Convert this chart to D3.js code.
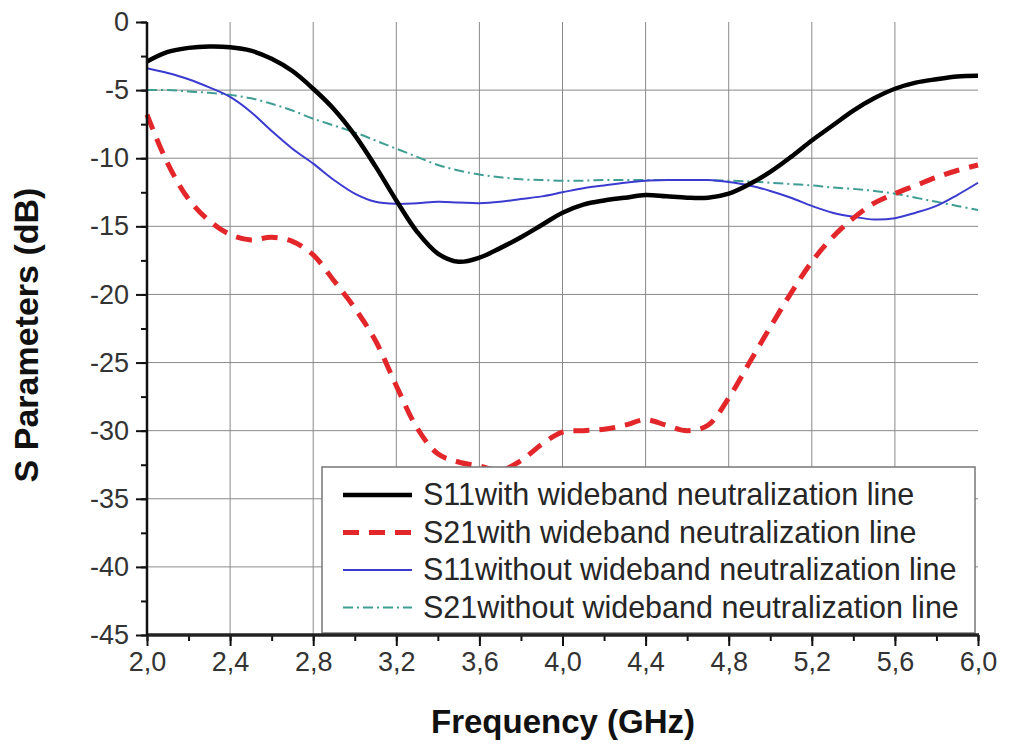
<!DOCTYPE html>
<html>
<head>
<meta charset="utf-8">
<script src="https://cdn.jsdelivr.net/npm/d3@7"></script>
<style>
  html, body { margin: 0; padding: 0; background: #fff; }
  svg { display: block; font-family: Arial, "Liberation Sans", sans-serif; }
</style>
</head>
<body>
<div id="chart"></div>
<script>
// frequency samples (GHz), shared by all four traces
const freq = d3.range(41).map((i) => +(2 + i * 0.1).toFixed(1));

// S11 with wideband neutralization line
const s11With = [
  -2.9, -2.2, -1.9, -1.8, -1.85, -2.1, -2.7, -3.6, -4.9, -6.4,
  -8.3, -10.6, -13.1, -15.4, -17.0, -17.6, -17.3, -16.6, -15.8, -14.9,
  -14.0, -13.4, -13.1, -12.9, -12.7, -12.8, -12.9, -12.9, -12.6, -11.9,
  -11.0, -9.9, -8.7, -7.6, -6.5, -5.6, -4.9, -4.45, -4.2, -4.0, -3.95,
];
// S21 with wideband neutralization line
const s21With = [
  -6.8, -10.4, -13.0, -14.6, -15.6, -16.0, -15.8, -16.1, -17.1, -19.0,
  -21.0, -23.4, -26.7, -29.8, -31.7, -32.3, -32.6, -32.9, -32.2, -31.0,
  -30.1, -30.0, -29.9, -29.6, -29.2, -29.6, -30.0, -29.6, -27.6, -25.0,
  -22.4, -19.9, -17.6, -15.8, -14.4, -13.3, -12.6, -12.0, -11.4, -10.9, -10.5,
];
// S11 without wideband neutralization line
const s11Without = [
  -3.4, -3.75, -4.2, -4.8, -5.5, -6.6, -8.0, -9.3, -10.4, -11.6,
  -12.6, -13.2, -13.35, -13.3, -13.2, -13.25, -13.3, -13.2, -13.0, -12.8,
  -12.5, -12.2, -12.0, -11.8, -11.65, -11.6, -11.6, -11.6, -11.75, -12.0,
  -12.4, -12.9, -13.5, -14.0, -14.3, -14.5, -14.4, -14.0, -13.5, -12.7, -11.8,
];
// S21 without wideband neutralization line
const s21Without = [
  -5.0, -5.0, -5.1, -5.2, -5.35, -5.6, -6.0, -6.5, -7.1, -7.6,
  -8.1, -8.7, -9.3, -9.9, -10.5, -10.9, -11.2, -11.4, -11.55, -11.6,
  -11.65, -11.65, -11.6, -11.6, -11.6, -11.6, -11.6, -11.6, -11.65, -11.7,
  -11.8, -11.9, -12.0, -12.15, -12.25, -12.4, -12.6, -12.9, -13.2, -13.5, -13.8,
];

const seriesNames = [
  'S11with wideband neutralization line',
  'S21with wideband neutralization line',
  'S11without wideband neutralization line',
  'S21without wideband neutralization line',
];

const xTicks = [2.0, 2.4, 2.8, 3.2, 3.6, 4.0, 4.4, 4.8, 5.2, 5.6, 6.0];
const yTicks = [0, -5, -10, -15, -20, -25, -30, -35, -40, -45];

const width = 1010;
const height = 747;
const margin = { top: 22, right: 32, bottom: 112, left: 147 };

const styles = [
  { color: '#000000', width: 4.5, dash: null },
  { color: '#e3262a', width: 5, dash: '16,10' },
  { color: '#3b3bd0', width: 2, dash: null },
  { color: '#3f9e94', width: 2, dash: '10,4,2,4' },
];

const x = d3.scaleLinear().domain([2, 6]).range([margin.left, width - margin.right]);
const y = d3.scaleLinear().domain([-45, 0]).range([height - margin.bottom, margin.top]);

const svg = d3
  .select('#chart')
  .append('svg')
  .attr('width', width)
  .attr('height', height)
  .attr('viewBox', [0, 0, width, height]);

// grid
svg
  .append('g')
  .attr('stroke', '#8a8a8a')
  .attr('stroke-width', 1)
  .selectAll('line')
  .data(xTicks.slice(1, -1))
  .join('line')
  .attr('x1', (d) => x(d))
  .attr('x2', (d) => x(d))
  .attr('y1', y(0))
  .attr('y2', y(-45));

svg
  .append('g')
  .attr('stroke', '#8a8a8a')
  .attr('stroke-width', 1)
  .selectAll('line')
  .data(yTicks.slice(1, -1))
  .join('line')
  .attr('x1', x(2))
  .attr('x2', x(6))
  .attr('y1', (d) => y(d))
  .attr('y2', (d) => y(d));

// curves
const allSeries = [s11With, s21With, s11Without, s21Without];
const line = d3
  .line()
  .x((d, i) => x(freq[i]))
  .y((d) => y(d))
  .curve(d3.curveCatmullRom.alpha(0.5));

svg
  .append('g')
  .attr('fill', 'none')
  .selectAll('path')
  .data([3, 2, 1, 0])
  .join('path')
  .attr('d', (k) => line(allSeries[k]))
  .attr('stroke', (k) => styles[k].color)
  .attr('stroke-width', (k) => styles[k].width)
  .attr('stroke-dasharray', (k) => styles[k].dash)
  .attr('stroke-linejoin', 'round');

// legend
const legend = svg.append('g');
legend
  .append('rect')
  .attr('x', 322)
  .attr('y', 467)
  .attr('width', 653)
  .attr('height', 166)
  .attr('fill', '#fff')
  .attr('stroke', '#777')
  .attr('stroke-width', 1.5);

const rows = legend
  .selectAll('g')
  .data(seriesNames)
  .join('g')
  .attr('transform', (d, i) => `translate(343,${495 + i * 37.5})`);

rows
  .append('line')
  .attr('x1', 0)
  .attr('x2', 69)
  .attr('stroke', (d, i) => styles[i].color)
  .attr('stroke-width', (d, i) => styles[i].width)
  .attr('stroke-dasharray', (d, i) => styles[i].dash);

rows
  .append('text')
  .attr('x', 80)
  .attr('y', 10)
  .attr('font-size', 30.5)
  .attr('fill', '#262626')
  .text((d) => d);

// axes
const xAxis = svg.append('g').attr('transform', `translate(0,${y(-45)})`);
xAxis
  .call(d3.axisBottom(x).tickValues(d3.range(2, 6.01, 0.2)).tickSize(6).tickFormat(''))
  .call((g) => g.select('.domain').remove())
  .selectAll('line')
  .attr('stroke', '#111')
  .attr('stroke-width', 2);
xAxis
  .append('g')
  .call(d3.axisBottom(x).tickValues(xTicks).tickSize(11).tickPadding(6)
    .tickFormat((d) => d3.format('.1f')(d).replace('.', ',')))
  .call((g) => g.select('.domain').remove())
  .call((g) => g.selectAll('line').attr('stroke', '#111').attr('stroke-width', 2))
  .call((g) => g.selectAll('text').attr('font-size', 27).attr('fill', '#333')
    .attr('font-family', 'Arial, "Liberation Sans", sans-serif'));
xAxis
  .append('line')
  .attr('x1', x(2) - 1)
  .attr('x2', x(6) + 1)
  .attr('stroke', '#222')
  .attr('stroke-width', 3.5);

const yAxis = svg.append('g').attr('transform', `translate(${x(2)},0)`);
yAxis
  .call(d3.axisLeft(y).tickValues(d3.range(-45, 0.01, 2.5)).tickSize(6).tickFormat(''))
  .call((g) => g.select('.domain').remove())
  .selectAll('line')
  .attr('stroke', '#111')
  .attr('stroke-width', 2);
yAxis
  .append('g')
  .call(d3.axisLeft(y).tickValues(yTicks).tickSize(11).tickPadding(7)
    .tickFormat((d) => String(d)))
  .call((g) => g.select('.domain').remove())
  .call((g) => g.selectAll('line').attr('stroke', '#111').attr('stroke-width', 2))
  .call((g) => g.selectAll('text').attr('font-size', 27).attr('fill', '#333')
    .attr('font-family', 'Arial, "Liberation Sans", sans-serif'));
yAxis
  .append('line')
  .attr('y1', y(0))
  .attr('y2', y(-45))
  .attr('stroke', '#111')
  .attr('stroke-width', 2.5);

// titles
svg
  .append('text')
  .attr('x', 563)
  .attr('y', 733)
  .attr('text-anchor', 'middle')
  .attr('font-size', 33)
  .attr('font-weight', 'bold')
  .attr('fill', '#111')
  .text('Frequency (GHz)');

svg
  .append('text')
  .attr('transform', 'translate(38,335) rotate(-90)')
  .attr('text-anchor', 'middle')
  .attr('font-size', 34)
  .attr('font-weight', 'bold')
  .attr('fill', '#111')
  .text('S Parameters (dB)');
</script>
</body>
</html>
